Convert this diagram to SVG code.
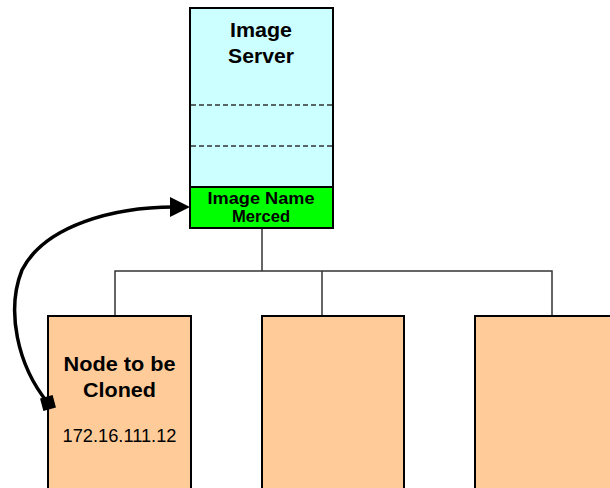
<svg xmlns="http://www.w3.org/2000/svg" width="610" height="488" viewBox="0 0 610 488">
<style>
.b{font-family:"Liberation Sans",Arial,sans-serif;font-weight:bold;text-anchor:middle;fill:#000}
.r{font-family:"Liberation Sans",Arial,sans-serif;text-anchor:middle;fill:#000}
.ln{stroke:#333;stroke-width:1.5;fill:none}
.node{fill:#FFCC99;stroke:#000;stroke-width:2}
</style>
<g id="connectors">
<path class="ln" d="M262,228 V271"/>
<path class="ln" d="M115,316 V271 H552 V316"/>
<path class="ln" d="M322,271 V316"/>
</g>
<g id="server">
<rect x="190" y="8" width="143" height="179" fill="#CCFFFF" stroke="#000" stroke-width="2"/>
<line x1="191" y1="105" x2="332" y2="105" stroke="#333" stroke-width="1.3" stroke-dasharray="5,3"/>
<line x1="191" y1="146" x2="332" y2="146" stroke="#333" stroke-width="1.3" stroke-dasharray="5,3"/>
<text class="b" x="261" y="37" font-size="20" textLength="62" lengthAdjust="spacingAndGlyphs">Image</text>
<text class="b" x="261" y="63" font-size="20" textLength="66" lengthAdjust="spacingAndGlyphs">Server</text>
</g>
<g id="imagename">
<rect x="190" y="187" width="143" height="41" fill="#00FF00" stroke="#000" stroke-width="2"/>
<text class="b" x="261" y="204" font-size="16" textLength="107" lengthAdjust="spacingAndGlyphs">Image Name</text>
<text class="b" x="261" y="222" font-size="16" textLength="58" lengthAdjust="spacingAndGlyphs">Merced</text>
</g>
<g id="node1">
<path class="node" d="M48,490 V316 H191 V490"/>
<text class="b" x="119.5" y="371" font-size="21" textLength="112" lengthAdjust="spacingAndGlyphs">Node to be</text>
<text class="b" x="119.5" y="397" font-size="21" textLength="73" lengthAdjust="spacingAndGlyphs">Cloned</text>
<text class="r" x="119.5" y="442" font-size="18" textLength="114" lengthAdjust="spacingAndGlyphs">172.16.111.12</text>
</g>
<g id="node2">
<path class="node" d="M262,490 V316 H404 V490"/>
</g>
<g id="node3">
<rect class="node" x="475" y="316" width="150" height="180"/>
</g>
<g id="clone-link">
<path d="M48,403 C17,365 6,310 22,270 C45,225 115,207 174,207" fill="none" stroke="#000" stroke-width="3.5"/>
<path d="M170,197 L190,207 L170,217 z" fill="#000"/>
<rect x="41.5" y="396.5" width="13" height="13" fill="#000" transform="rotate(-15 48 403)"/>
</g>
</svg>
